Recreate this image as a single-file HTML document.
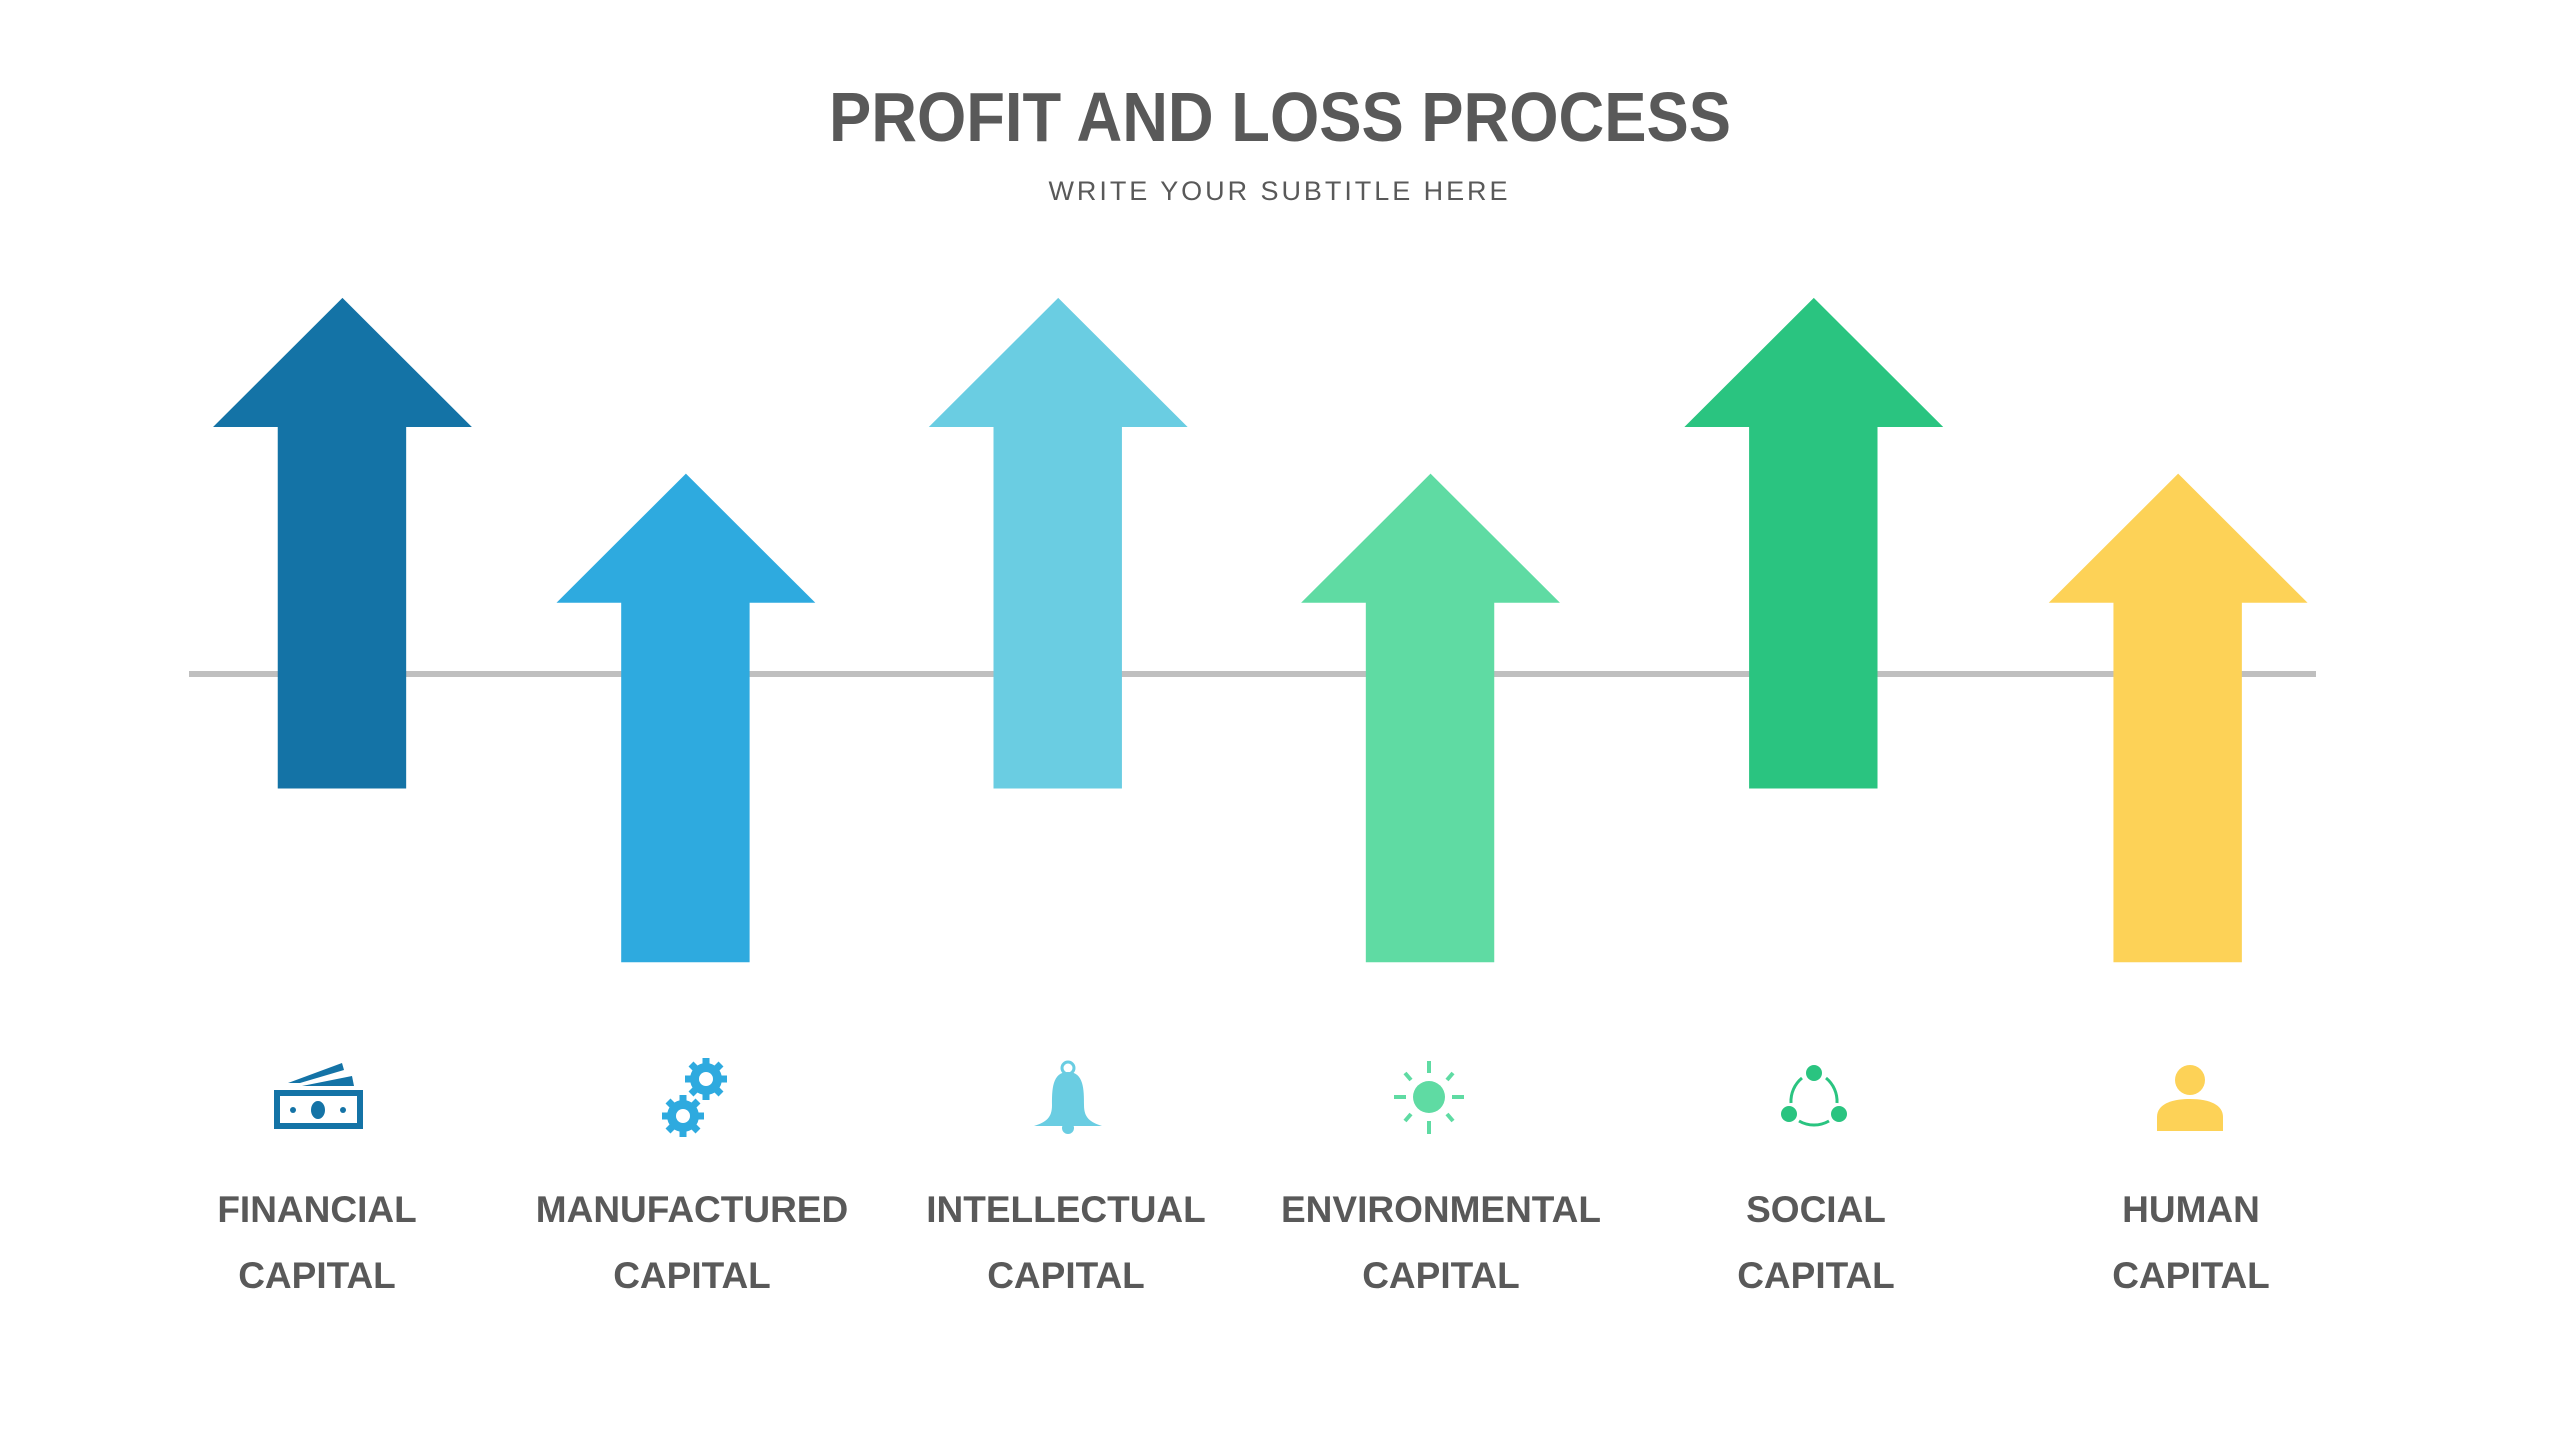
<!DOCTYPE html>
<html><head><meta charset="utf-8"><style>
html,body{margin:0;padding:0;background:#fff;}
svg{display:block}
</style></head><body>
<svg width="2559" height="1440" viewBox="0 0 2559 1440" xmlns="http://www.w3.org/2000/svg">
<rect width="2559" height="1440" fill="#fff"/>
<text x="1280" y="141" text-anchor="middle" font-family="Liberation Sans, sans-serif" font-weight="bold" font-size="70" fill="#595959" textLength="902" lengthAdjust="spacingAndGlyphs">PROFIT AND LOSS PROCESS</text>
<text x="1278" y="200" text-anchor="middle" font-family="Liberation Sans, sans-serif" font-size="27" fill="#595959" textLength="459" lengthAdjust="spacing">WRITE YOUR SUBTITLE HERE</text>
<rect x="189" y="671" width="2127" height="6" fill="#bfbfbf"/>
<g transform="scale(0.9955,0.993)">
<polygon points="344,300 474,430 408,430 408,794 279,794 279,430 214,430" fill="#1473a6"/>
<polygon points="689,477 819,607 753,607 753,969 624,969 624,607 559,607" fill="#2eaadf"/>
<polygon points="1063,300 1193,430 1127,430 1127,794 998,794 998,430 933,430" fill="#6acde2"/>
<polygon points="1437,477 1567,607 1501,607 1501,969 1372,969 1372,607 1307,607" fill="#5fdba3"/>
<polygon points="1822,300 1952,430 1886,430 1886,794 1757,794 1757,430 1692,430" fill="#2ac480"/>
<polygon points="2188,477 2318,607 2252,607 2252,969 2123,969 2123,607 2058,607" fill="#fdd257"/>
</g>
<!-- icons -->
<g fill="#1473a6">
<path d="M274,1090 h89 v39 h-89 z M280,1096 v27 h77 v-27 z" fill-rule="evenodd"/>
<ellipse cx="318" cy="1110" rx="7" ry="9"/>
<circle cx="293" cy="1110" r="3"/><circle cx="343" cy="1110" r="3"/>
<polygon points="288,1083 342,1063 344,1070 300,1083"/>
<polygon points="302,1086 352,1076 354,1086"/>
</g>
<g fill="#2eaadf">
<g stroke="#2eaadf" stroke-width="7">
<line x1="706" y1="1058" x2="706" y2="1100"/><line x1="685" y1="1079" x2="727" y2="1079"/>
<line x1="691" y1="1064" x2="721" y2="1094"/><line x1="721" y1="1064" x2="691" y2="1094"/>
<line x1="683" y1="1095" x2="683" y2="1137"/><line x1="662" y1="1116" x2="704" y2="1116"/>
<line x1="668" y1="1101" x2="698" y2="1131"/><line x1="698" y1="1101" x2="668" y2="1131"/>
</g>
<circle cx="706" cy="1079" r="16"/>
<circle cx="683" cy="1116" r="16"/>
<circle cx="706" cy="1079" r="7" fill="#fff"/><circle cx="683" cy="1116" r="7" fill="#fff"/>
</g>
<g fill="#6acde2">
<circle cx="1068" cy="1068" r="6" fill="none" stroke="#6acde2" stroke-width="3"/>
<path d="M1068,1072 C1052,1072 1052,1090 1052,1105 C1052,1118 1046,1122 1034,1126 L1102,1126 C1090,1122 1084,1118 1084,1105 C1084,1090 1084,1072 1068,1072 Z"/>
<circle cx="1068" cy="1128" r="6"/>
</g>
<g transform="translate(-7,-5)">
<g fill="#5fdba3" stroke="#5fdba3" stroke-width="4">
<circle cx="1436" cy="1102" r="16" stroke="none"/>
<line x1="1436" y1="1066" x2="1436" y2="1078"/><line x1="1436" y1="1126" x2="1436" y2="1139"/>
<line x1="1401" y1="1102" x2="1413" y2="1102"/><line x1="1459" y1="1102" x2="1471" y2="1102"/>
<line x1="1412" y1="1078" x2="1418" y2="1085"/><line x1="1460" y1="1078" x2="1454" y2="1085"/>
<line x1="1412" y1="1126" x2="1418" y2="1119"/><line x1="1460" y1="1126" x2="1454" y2="1119"/>
</g>
</g>
<g transform="translate(-8,-5)" fill="#2ac480">
<path d="M1799,1108 A30,30 0 0 1 1810,1083 M1834,1083 A30,30 0 0 1 1845,1108 M1807,1126 A30,30 0 0 0 1837,1126" fill="none" stroke="#2ac480" stroke-width="3"/>
<circle cx="1822" cy="1078" r="8"/><circle cx="1797" cy="1119" r="8"/><circle cx="1847" cy="1119" r="8"/>
</g>
<g transform="translate(-10,-5)" fill="#fdd257">
<circle cx="2200" cy="1085" r="15"/>
<path d="M2167,1136 V1122 C2167,1110 2180,1104 2200,1104 C2220,1104 2233,1110 2233,1122 V1136 Z"/>
</g>
<g font-family="Liberation Sans, sans-serif" font-weight="bold" font-size="37" fill="#595959" text-anchor="middle">
<text x="317" y="1222">FINANCIAL</text><text x="317" y="1288">CAPITAL</text>
<text x="692" y="1222">MANUFACTURED</text><text x="692" y="1288">CAPITAL</text>
<text x="1066" y="1222">INTELLECTUAL</text><text x="1066" y="1288">CAPITAL</text>
<text x="1441" y="1222">ENVIRONMENTAL</text><text x="1441" y="1288">CAPITAL</text>
<text x="1816" y="1222">SOCIAL</text><text x="1816" y="1288">CAPITAL</text>
<text x="2191" y="1222">HUMAN</text><text x="2191" y="1288">CAPITAL</text>
</g>
</svg>
</body></html>
